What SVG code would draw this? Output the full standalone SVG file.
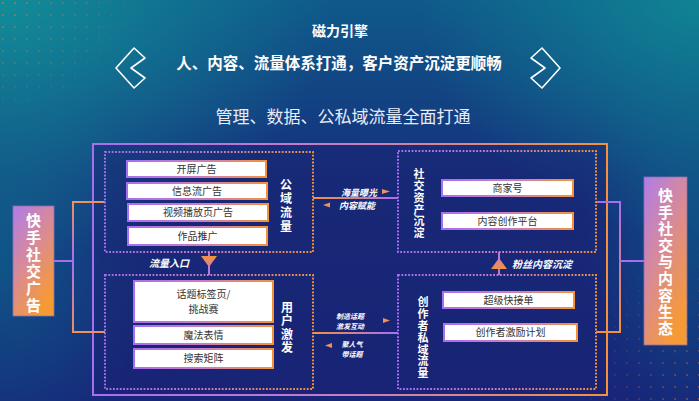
<svg xmlns="http://www.w3.org/2000/svg" width="699" height="401" viewBox="0 0 699 401">
<defs>
<linearGradient id="bg" x1="0" y1="0" x2="0" y2="1">
<stop offset="0" stop-color="#0f5a8a"/><stop offset="0.45" stop-color="#152f7c"/><stop offset="1" stop-color="#172679"/>
</linearGradient>
<radialGradient id="tl" cx="0" cy="0" r="1" gradientUnits="userSpaceOnUse" gradientTransform="translate(0,0) scale(330,260)">
<stop offset="0" stop-color="#12929a" stop-opacity="0.9"/><stop offset="1" stop-color="#12929a" stop-opacity="0"/>
</radialGradient>
<radialGradient id="tr" cx="0" cy="0" r="1" gradientUnits="userSpaceOnUse" gradientTransform="translate(699,0) scale(280,240)">
<stop offset="0" stop-color="#108a96" stop-opacity="0.85"/><stop offset="1" stop-color="#108a96" stop-opacity="0"/>
</radialGradient>
<radialGradient id="lm" cx="0" cy="0" r="1" gradientUnits="userSpaceOnUse" gradientTransform="translate(0,260) scale(160,200)">
<stop offset="0" stop-color="#0e5f8a" stop-opacity="0.8"/><stop offset="1" stop-color="#0e5f8a" stop-opacity="0"/>
</radialGradient>
<radialGradient id="rm" cx="0" cy="0" r="1" gradientUnits="userSpaceOnUse" gradientTransform="translate(699,230) scale(120,200)">
<stop offset="0" stop-color="#0e5a88" stop-opacity="0.7"/><stop offset="1" stop-color="#0e5a88" stop-opacity="0"/>
</radialGradient>
<linearGradient id="gh" x1="0" y1="0" x2="1" y2="0">
<stop offset="0" stop-color="#a86ef2"/><stop offset="0.5" stop-color="#c97dc0"/><stop offset="1" stop-color="#f5913a"/>
</linearGradient>
<linearGradient id="gho" x1="0" y1="0" x2="1" y2="0">
<stop offset="0" stop-color="#f5913a"/><stop offset="1" stop-color="#a86ef2"/>
</linearGradient>
<linearGradient id="gvl" x1="0" y1="0" x2="0" y2="1">
<stop offset="0" stop-color="#f0905a"/><stop offset="0.45" stop-color="#a86ef2"/><stop offset="1" stop-color="#f0905a"/>
</linearGradient>
<linearGradient id="gvr" x1="0" y1="0" x2="0" y2="1">
<stop offset="0" stop-color="#a86ef2"/><stop offset="1" stop-color="#f5913a"/>
</linearGradient>
<linearGradient id="side" x1="0" y1="0" x2="0.6" y2="1">
<stop offset="0" stop-color="#b07ce8"/><stop offset="0.5" stop-color="#d88a98"/><stop offset="1" stop-color="#f69a36"/>
</linearGradient>
<linearGradient id="tri" x1="0" y1="0" x2="0" y2="1">
<stop offset="0" stop-color="#f5913a"/><stop offset="1" stop-color="#d47fb0"/>
</linearGradient>
<linearGradient id="triu" x1="0" y1="1" x2="0" y2="0">
<stop offset="0" stop-color="#f5913a"/><stop offset="1" stop-color="#d47fb0"/>
</linearGradient>
<pattern id="dots" width="12" height="12" patternUnits="userSpaceOnUse">
<circle cx="3" cy="3" r="0.9" fill="#e8743a"/>
</pattern>
<radialGradient id="fadeTL" cx="0" cy="0" r="1" gradientUnits="userSpaceOnUse" gradientTransform="translate(0,0) scale(150,130)">
<stop offset="0" stop-color="#fff" stop-opacity="0.9"/><stop offset="1" stop-color="#fff" stop-opacity="0"/>
</radialGradient>
<radialGradient id="fadeBR" cx="0" cy="0" r="1" gradientUnits="userSpaceOnUse" gradientTransform="translate(699,401) scale(130,160)">
<stop offset="0" stop-color="#fff" stop-opacity="0.8"/><stop offset="1" stop-color="#fff" stop-opacity="0"/>
</radialGradient>
<mask id="mTL"><rect width="699" height="401" fill="url(#fadeTL)"/></mask>
<mask id="mBR"><rect width="699" height="401" fill="url(#fadeBR)"/></mask>
<style>
.t{font-family:"Noto Sans CJK SC",sans-serif;}
.item rect{fill:#ffffff;stroke:url(#gh);stroke-width:2;}
.item text{font-family:"Noto Sans CJK SC",sans-serif;font-size:10px;fill:#333;text-anchor:middle;}
.dot{fill:none;stroke:url(#gh);stroke-width:2;stroke-dasharray:1.8 1.6;}
.vl{font-family:"Noto Sans CJK SC",sans-serif;fill:#fff;font-weight:bold;text-anchor:middle;writing-mode:vertical-rl;}
.lab{font-family:"Noto Sans CJK SC",sans-serif;fill:#fff;font-weight:bold;font-style:italic;text-anchor:middle;}
.ta{fill:#f0905a;}
</style>
</defs>

<rect width="699" height="401" fill="url(#bg)"/>
<rect width="699" height="401" fill="url(#lm)"/>
<rect width="699" height="401" fill="url(#rm)"/>
<rect width="699" height="401" fill="url(#tl)"/>
<rect width="699" height="401" fill="url(#tr)"/>
<rect width="699" height="401" fill="url(#dots)" mask="url(#mTL)" opacity="0.8"/>
<rect width="699" height="401" fill="url(#dots)" mask="url(#mBR)" opacity="0.8"/>

<g id="title">
<text class="t" x="340" y="36" font-size="14" font-weight="bold" fill="#fff" text-anchor="middle">磁力引擎</text>
<text class="t" x="339" y="69" font-size="15.5" font-weight="bold" fill="#fff" text-anchor="middle">人、内容、流量体系打通，客户资产沉淀更顺畅</text>
<text class="t" x="343" y="123" font-size="17" fill="#e8ecf8" text-anchor="middle">管理、数据、公私域流量全面打通</text>
<polygon points="134,48 145,58 131,68 145,78 134,88 116,68" fill="none" stroke="#fff" stroke-width="1.6" stroke-linejoin="round"/>
<polygon points="542,48 531,58 545,68 531,78 542,88 560,68" fill="none" stroke="#fff" stroke-width="1.6" stroke-linejoin="round"/>
</g>

<g id="frame">
<rect x="93" y="144" width="514" height="251" fill="#1a2272" fill-opacity="0.45" stroke="url(#gh)" stroke-width="2"/>
</g>

<g id="connectors">
<rect x="54" y="260" width="20" height="2" fill="#a86ef2"/>
<rect x="72" y="201" width="2" height="132" fill="url(#gvl)"/>
<rect x="72" y="201" width="33" height="2" fill="#f0905a"/>
<rect x="72" y="331" width="33" height="2" fill="#f0905a"/>
<rect x="596" y="201" width="25" height="2" fill="#a86ef2"/>
<rect x="619" y="201" width="2" height="132" fill="url(#gvr)"/>
<rect x="596" y="331" width="25" height="2" fill="#f5913a"/>
<rect x="619" y="260" width="25" height="2" fill="#a86ef2"/>
<rect x="313" y="197" width="85" height="2" fill="url(#gho)"/>
<rect x="313" y="332" width="85" height="2" fill="url(#gho)"/>
<polygon class="ta" points="382,189 390,191.5 382,194"/>
<polygon class="ta" points="330,202.5 323,205 330,207.5"/>
<polygon class="ta" points="383,318 390,320.5 383,323"/>
<polygon class="ta" points="332,343 325,345.5 332,348"/>
<text class="lab" x="359" y="196" font-size="9">海量曝光</text>
<text class="lab" x="357" y="209" font-size="9">内容赋能</text>
<text class="lab" font-size="7"><tspan x="350" y="318.5">制造话题</tspan><tspan x="350" y="328.8">激发互动</tspan></text>
<text class="lab" font-size="7"><tspan x="352" y="347">聚人气</tspan><tspan x="352" y="357.3">带话题</tspan></text>
<rect x="208" y="252" width="2" height="23" fill="#b67ad8"/>
<polygon points="201,256 217,256 209,267" fill="url(#tri)"/>
<text class="lab" x="169" y="267" font-size="10">流量入口</text>
<rect x="498" y="252" width="2" height="23" fill="#b67ad8"/>
<polygon points="491,269 507,269 499,258" fill="url(#triu)"/>
<text class="lab" x="542" y="268" font-size="10">粉丝内容沉淀</text>
</g>

<g id="left-node">
<rect x="13" y="206" width="41" height="110" fill="url(#side)" stroke="#8a6fb0" stroke-width="0.8"/>
<text class="vl" x="33.5" y="263.5" font-size="15" letter-spacing="2">快手社交广告</text>
</g>

<g id="right-node">
<rect x="644" y="177" width="43" height="168" fill="url(#side)" stroke="#8a6fb0" stroke-width="0.8"/>
<text class="vl" x="665.5" y="262.5" font-size="15" letter-spacing="1.6">快手社交与内容生态</text>
</g>

<g id="public-traffic">
<rect class="dot" x="105" y="152" width="208" height="100"/>
<text class="vl" x="286" y="206" font-size="12" letter-spacing="2">公域流量</text>
<g class="item"><rect x="127" y="161" width="139" height="16"/><text x="196.5" y="172.5">开屏广告</text></g>
<g class="item"><rect x="127" y="183" width="140" height="16"/><text x="197" y="194.5">信息流广告</text></g>
<g class="item"><rect x="128" y="204" width="140" height="17"/><text x="198" y="216">视频播放页广告</text></g>
<g class="item"><rect x="128" y="227" width="139" height="18"/><text x="197.5" y="239.5">作品推广</text></g>
</g>

<g id="user-activation">
<rect class="dot" x="105" y="275" width="208" height="114"/>
<text class="vl" x="287" y="328" font-size="12" letter-spacing="1.5">用户激发</text>
<g class="item"><rect x="134" y="281" width="139" height="41"/><text><tspan x="203.5" y="298">话题标签页/</tspan><tspan x="203.5" y="312.6">挑战赛</tspan></text></g>
<g class="item"><rect x="134" y="326" width="139" height="18"/><text x="203.5" y="338.5">魔法表情</text></g>
<g class="item"><rect x="134" y="349" width="139" height="19"/><text x="203.5" y="362">搜索矩阵</text></g>
</g>

<g id="social-assets">
<rect class="dot" x="398" y="151" width="198" height="101"/>
<text class="vl" x="419" y="204" font-size="11" letter-spacing="0.8">社交资产沉淀</text>
<g class="item"><rect x="442" y="180" width="131" height="16"/><text x="507.5" y="191.5">商家号</text></g>
<g class="item"><rect x="442" y="213" width="131" height="16"/><text x="507.5" y="224.5">内容创作平台</text></g>
</g>

<g id="creator-private">
<rect class="dot" x="398" y="275" width="198" height="114"/>
<text class="vl" x="423" y="338" font-size="11" letter-spacing="0.8">创作者私域流量</text>
<g class="item"><rect x="443" y="292" width="131" height="16"/><text x="508.5" y="303.5">超级快接单</text></g>
<g class="item"><rect x="444" y="324" width="133" height="17"/><text x="510.5" y="336">创作者激励计划</text></g>
</g>
</svg>
